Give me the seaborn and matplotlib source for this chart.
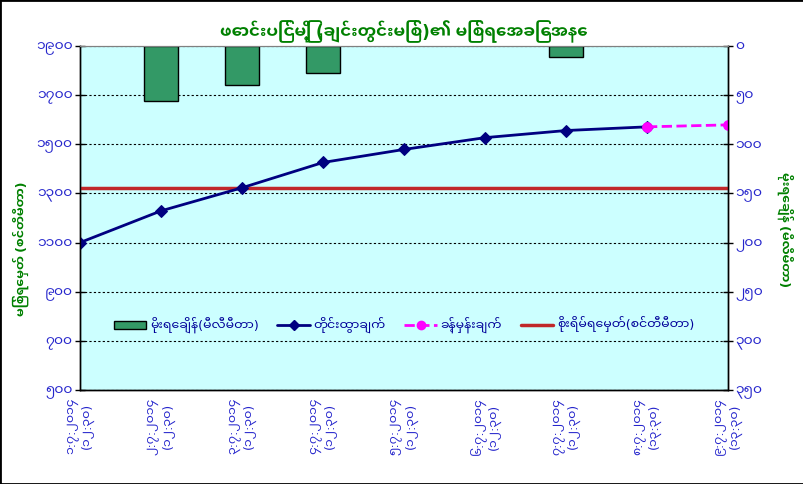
import numpy as np
import pandas as pd
import matplotlib
matplotlib.use('Agg')
import matplotlib.pyplot as plt
import seaborn as sns
from matplotlib import font_manager
from matplotlib.patches import Rectangle
from matplotlib.lines import Line2D


# Police avec les glyphes birmans, s'il y en a une
def find_myanmar_font():
    try:
        from fontTools.ttLib import TTFont
    except Exception:
        return None
    trouvees = []
    for f in font_manager.fontManager.ttflist:
        try:
            tt = TTFont(f.fname, fontNumber=0, lazy=True)
            cmap = tt.getBestCmap()
            if cmap and 0x1000 in cmap and 0x1041 in cmap:
                trouvees.append(f.name)
        except Exception:
            continue
    if not trouvees:
        return None
    for nom in trouvees:
        if 'UI' in nom:
            return nom
    return trouvees[0]


# Données
dates = ['၁:၇:၂၀၁၄', '၂:၇:၂၀၁၄', '၃:၇:၂၀၁၄', '၄:၇:၂၀၁၄', '၅:၇:၂၀၁၄',
         '၆:၇:၂၀၁၄', '၇:၇:၂၀၁၄', '၈:၇:၂၀၁၄', '၉:၇:၂၀၁၄']
heures = ['(၁၂:၃၀)'] * 7 + ['(၁၃:၃၀)'] * 2
niveau = [1100, 1229, 1323, 1426, 1479, 1527, 1556, 1571, np.nan]
prevision = [np.nan] * 7 + [1571, 1579]
pluie = [0, 56, 40, 27, 0, 0, 11.5, np.nan, np.nan]
niveau_alerte = 1321

yticks_gauche = [500, 700, 900, 1100, 1300, 1500, 1700, 1900]
yticks_droite = [0, 50, 100, 150, 200, 250, 300, 350]

titre = 'ဖောင်းပြင်မြို့ (ချင်းတွင်းမြစ်)၏ မြစ်ရေအခြေအနေ'
label_gauche = 'မြစ်ရေမှတ် (စင်တီမီတာ)'
label_droite = 'မိုးရေချိန် (မီလီမီတာ)'
legendes = ['မိုးရေချိန်(မီလီမီတာ)', 'တိုင်းထွာချက်', 'ခန့်မှန်းချက်',
            'စိုးရိမ်ရေမှတ်(စင်တီမီတာ)']

mm = str.maketrans('0123456789', '၀၁၂၃၄၅၆၇၈၉')

df = pd.DataFrame({'pos': np.arange(len(dates)), 'niveau': niveau,
                   'prevision': prevision, 'pluie': pluie})

sns.set_style('white')
mm_font = find_myanmar_font()
plt.rcParams['font.family'] = ([mm_font] if mm_font else []) + ['DejaVu Sans']

bleu = '#2626CC'
vert = '#008000'

fig = plt.figure(figsize=(8.04, 4.84), dpi=100)
ax = fig.add_axes([80 / 804, 1 - 390 / 484, 648 / 804, 344 / 484])
ax.set_facecolor('#CCFFFF')
ax2 = ax.twinx()

# Barres de pluie (axe droit inversé)
sns.barplot(data=df[df['pluie'] > 0], x='pos', y='pluie', ax=ax2, native_scale=True,
            color='#339966', edgecolor='black', linewidth=1, width=0.41,
            saturation=1, errorbar=None)
ax2.set_ylim(350, 0)
ax2.set_yticks(yticks_droite)
ax2.set_yticklabels([str(v).translate(mm) for v in yticks_droite])
ax2.set_ylabel(label_droite, color=vert, fontsize=9, fontweight='bold',
               rotation=270, va='center')
ax2.yaxis.set_label_coords(1.088, 0.465)

# Niveaux
ax.axhline(niveau_alerte, color='#C0282A', lw=2.5, zorder=3)
sns.lineplot(data=df, x='pos', y='niveau', ax=ax, color='#000080', lw=2,
             marker='D', markersize=6, markeredgecolor='#000080', zorder=4)
sns.lineplot(data=df, x='pos', y='prevision', ax=ax, color='#FF00FF', lw=2,
             linestyle='--', marker='o', markersize=7, markeredgecolor='#FF00FF',
             zorder=5)

ax.set_ylim(500, 1900)
ax.set_yticks(yticks_gauche)
ax.set_yticklabels([str(v).translate(mm) for v in yticks_gauche])
ax.set_ylabel(label_gauche, color=vert, fontsize=9, fontweight='bold', va='center')
ax.yaxis.set_label_coords(-0.092, 0.41)
ax.set_xlabel('')
ax.yaxis.grid(True, linestyle=(0, (2, 2)), color='black', lw=0.8)
ax.set_axisbelow(True)

ax.set_xlim(0, len(dates) - 1)
ax.set_xticks(df['pos'])
ax.set_xticklabels([f'{d}\n{h}' for d, h in zip(dates, heures)], rotation=90,
                   ha='center', va='top', multialignment='center')

for a in (ax, ax2):
    a.tick_params(axis='both', colors='black', labelcolor=bleu, labelsize=10,
                  direction='inout', length=7, width=1, pad=2)
    for s in ('left', 'right', 'bottom'):
        a.spines[s].set_color('black')
        a.spines[s].set_linewidth(1)
    a.spines['top'].set_color('#808080')
ax.tick_params(axis='x', labelsize=9)

ax.set_title(titre, color=vert, fontsize=12, fontweight='bold', pad=6)

# Légende
poignees = [
    Rectangle((0, 0), 1, 1, facecolor='#339966', edgecolor='black'),
    Line2D([], [], color='#000080', lw=2, marker='D', markersize=5),
    Line2D([], [], color='#FF00FF', lw=2, linestyle='--', marker='o', markersize=6),
    Line2D([], [], color='#C0282A', lw=2.5),
]
leg = ax2.legend(poignees, legendes, loc='center', bbox_to_anchor=(0.5, 0.19),
                 ncol=4, frameon=False, fontsize=9, columnspacing=1.5,
                 handlelength=2.6, handletextpad=0.3)
for t in leg.get_texts():
    t.set_color('#000099')

fig.patches.append(Rectangle((0, 0), 1, 1, transform=fig.transFigure, fill=False,
                             edgecolor='black', lw=2))

plt.savefig('out.png', dpi=100)
